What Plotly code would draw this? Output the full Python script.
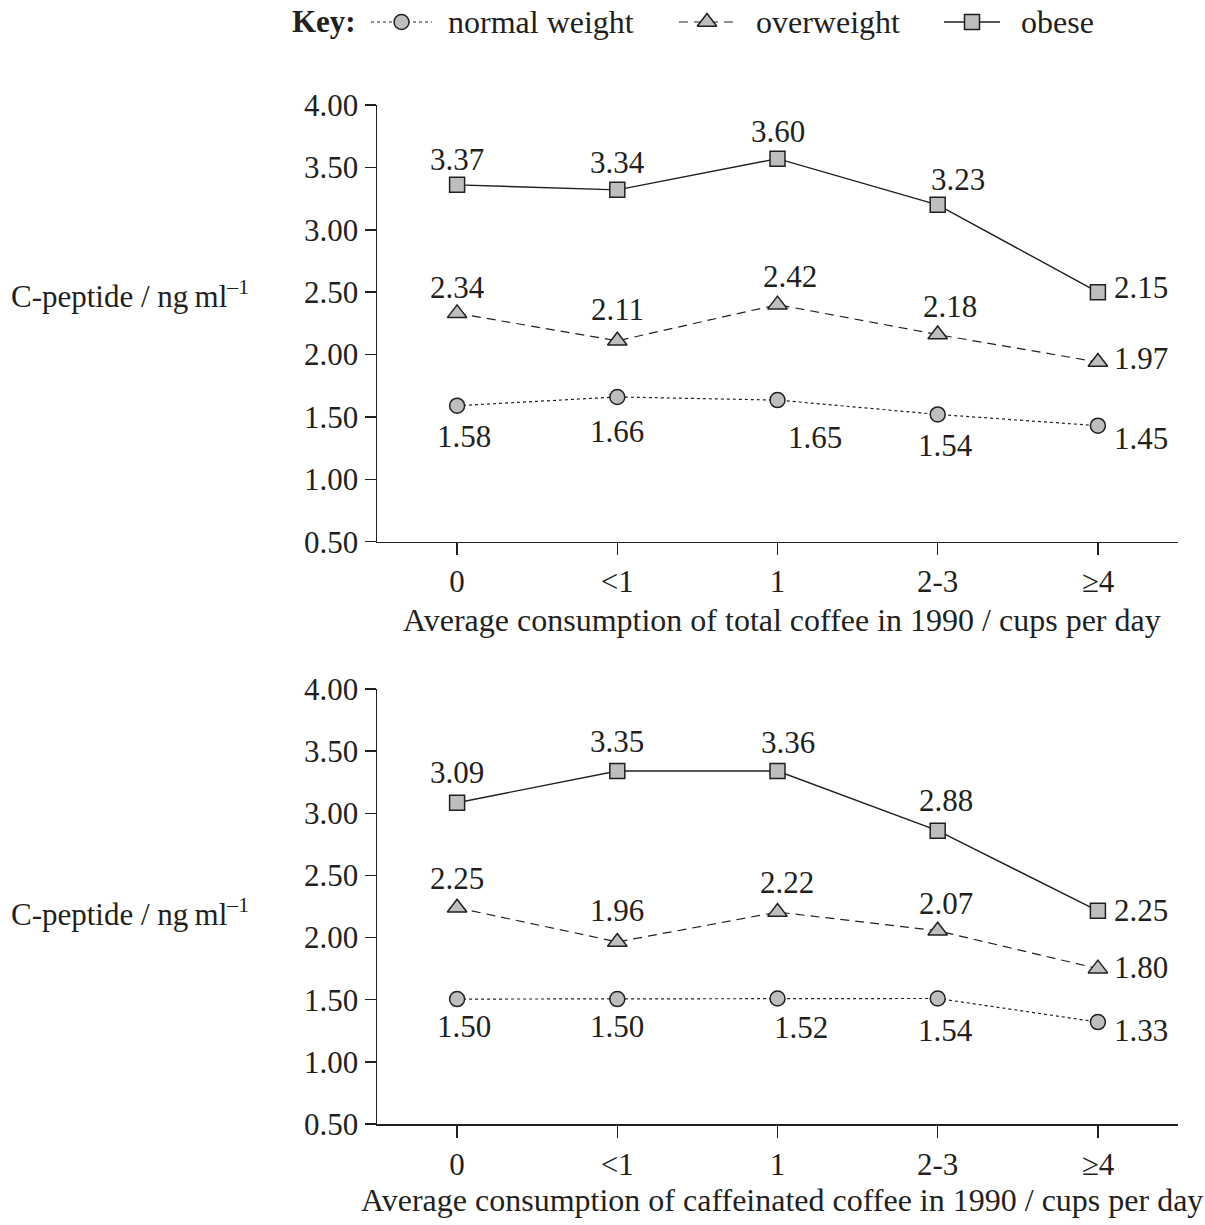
import plotly.graph_objects as go

# ---------------- data ----------------
categories = ["0", "<1", "1", "2-3", "≥4"]
series_names = ["normal weight", "overweight", "obese"]

# plotted marker positions (as drawn in the picture)
total_normal = [1.59, 1.66, 1.635, 1.52, 1.43]
total_over = [2.33, 2.11, 2.40, 2.16, 1.94]
total_obese = [3.36, 3.32, 3.57, 3.20, 2.50]

caff_normal = [1.505, 1.505, 1.51, 1.51, 1.32]
caff_over = [2.24, 1.965, 2.205, 2.055, 1.75]
caff_obese = [3.085, 3.34, 3.34, 2.86, 2.215]

# printed value labels
total_normal_lbl = ["1.58", "1.66", "1.65", "1.54", "1.45"]
total_over_lbl = ["2.34", "2.11", "2.42", "2.18", "1.97"]
total_obese_lbl = ["3.37", "3.34", "3.60", "3.23", "2.15"]

caff_normal_lbl = ["1.50", "1.50", "1.52", "1.54", "1.33"]
caff_over_lbl = ["2.25", "1.96", "2.22", "2.07", "1.80"]
caff_obese_lbl = ["3.09", "3.35", "3.36", "2.88", "2.25"]

y_ticks = [0.5, 1.0, 1.5, 2.0, 2.5, 3.0, 3.5, 4.0]
y_tick_text = ["0.50", "1.00", "1.50", "2.00", "2.50", "3.00", "3.50", "4.00"]

x_title_top = "Average consumption of total coffee in 1990 / cups per day"
x_title_bot = "Average consumption of caffeinated coffee in 1990 / cups per day"
y_title = "C-peptide / ng\u2009ml<sup>–1</sup>"

# ---------------- style ----------------
W, H = 1205, 1225
FONT = "Liberation Serif, Times New Roman, serif"
FS = 31
INK = "#231f20"
FILL = "#bcbec0"

xpos = list(range(len(categories)))


def px(x):
    return x / W


def py(y):
    return min(1.0, 1 - y / H)


styles = {
    "normal weight": dict(symbol="circle", size=15, dash="3px,3px", width=1.2),
    "overweight": dict(symbol="triangle-up", size=17, dash="9px,6px", width=1.2),
    "obese": dict(symbol="square", size=15, dash="solid", width=1.4),
}

# label offsets (dx, dy, anchor) in pixels
off_top = {
    "obese": [(0, 25, "c"), (0, 27, "c"), (0, 27, "c"), (20, 25, "c"), (14, 5, "r")],
    "overweight": [(0, 26, "c"), (0, 31, "c"), (12, 28, "c"), (12, 28, "c"), (14, 4, "r")],
    "normal weight": [(7, -31, "c"), (0, -35, "c"), (37, -37, "c"), (8, -31, "c"), (14, -13, "r")],
}
off_bot = {
    "obese": [(0, 30, "c"), (0, 30, "c"), (10, 29, "c"), (8, 30, "c"), (14, 0, "r")],
    "overweight": [(0, 29, "c"), (0, 31, "c"), (9, 30, "c"), (8, 27, "c"), (14, 1, "r")],
    "normal weight": [(7, -27, "c"), (0, -27, "c"), (23, -29, "c"), (8, -32, "c"), (14, -8, "r")],
}

fig = go.Figure()
annotations = []

panels = [
    ("x", "y", {"normal weight": (total_normal, total_normal_lbl),
                "overweight": (total_over, total_over_lbl),
                "obese": (total_obese, total_obese_lbl)}, off_top),
    ("x2", "y2", {"normal weight": (caff_normal, caff_normal_lbl),
                  "overweight": (caff_over, caff_over_lbl),
                  "obese": (caff_obese, caff_obese_lbl)}, off_bot),
]

for xa, ya, data, offs in panels:
    for name in series_names:
        vals, lbls = data[name]
        st = styles[name]
        fig.add_trace(go.Scatter(
            x=xpos, y=vals, mode="lines+markers", xaxis=xa, yaxis=ya,
            showlegend=False, name=name,
            line=dict(color=INK, width=st["width"], dash=st["dash"]),
            marker=dict(symbol=st["symbol"], size=st["size"], color=FILL,
                        line=dict(color=INK, width=1.5)),
            cliponaxis=False,
        ))
        for xi, v, t, (dx, dy, a) in zip(xpos, vals, lbls, offs[name]):
            annotations.append(dict(
                x=xi, y=v, xref=xa, yref=ya, text=t, showarrow=False,
                xshift=dx, yshift=dy, xanchor="left" if a == "r" else "center",
                yanchor="middle", font=dict(family=FONT, size=FS, color=INK),
            ))

# ---------------- legend (manual) ----------------
LEG_Y = 22
leg_val = 44 - LEG_Y
leg_items = [("normal weight", 371, 432, 446), ("overweight", 679, 735, 754), ("obese", 944, 1000, 1019)]
for name, x0, x1, tx in leg_items:
    st = styles[name]
    fig.add_trace(go.Scatter(
        x=[x0, (x0 + x1) / 2, x1], y=[leg_val] * 3, mode="lines",
        xaxis="x3", yaxis="y3", showlegend=False, hoverinfo="skip",
        line=dict(color=INK, width=st["width"], dash=st["dash"]),
    ))
    fig.add_trace(go.Scatter(
        x=[(x0 + x1) / 2], y=[leg_val], mode="markers", xaxis="x3", yaxis="y3",
        showlegend=False, hoverinfo="skip",
        marker=dict(symbol=st["symbol"], size=st["size"], color=FILL,
                    line=dict(color=INK, width=1.5)),
    ))
    annotations.append(dict(x=px(tx), y=py(LEG_Y), xref="paper", yref="paper", text=name,
                            showarrow=False, xanchor="left", yanchor="middle",
                            font=dict(family=FONT, size=32, color=INK)))
annotations.append(dict(x=px(290), y=py(LEG_Y), xref="paper", yref="paper", text="<b>Key:</b>",
                        showarrow=False, xanchor="left", yanchor="middle",
                        font=dict(family=FONT, size=31, color=INK)))

# ---------------- titles ----------------
for ypix in (294, 912):
    annotations.append(dict(x=px(9), y=py(ypix), xref="paper", yref="paper", text=y_title,
                            showarrow=False, xanchor="left", yanchor="middle",
                            font=dict(family=FONT, size=31, color=INK)))
annotations.append(dict(x=px(782), y=py(620), xref="paper", yref="paper", text=x_title_top,
                        showarrow=False, xanchor="center", yanchor="middle",
                        font=dict(family=FONT, size=32, color=INK)))
annotations.append(dict(x=px(782), y=py(1200), xref="paper", yref="paper", text=x_title_bot,
                        showarrow=False, xanchor="center", yanchor="middle",
                        font=dict(family=FONT, size=32, color=INK)))

xl, xr = px(377), px(1178)
ax_common = dict(showline=True, linecolor=INK, linewidth=1.5, ticks="outside",
                 tickcolor=INK, tickwidth=1.5, showgrid=False, zeroline=False,
                 automargin=False,
                 tickfont=dict(family=FONT, size=FS, color=INK))
xaxis_common = dict(ax_common, tickvals=xpos, ticktext=categories,
                    range=[-0.5, 4.5], ticklen=12, fixedrange=True)
yaxis_common = dict(ax_common, range=[0.5, 4.0], tickvals=y_ticks, ticktext=y_tick_text,
                    ticklen=11, fixedrange=True)

fig.update_layout(
    template="none",
    width=W, height=H, margin=dict(l=0, r=0, t=0, b=0, pad=0, autoexpand=False),
    paper_bgcolor="white", plot_bgcolor="white",
    font=dict(family=FONT, size=FS, color=INK),
    xaxis=dict(xaxis_common, domain=[xl, xr], anchor="y"),
    yaxis=dict(yaxis_common, domain=[py(541.7), py(105)], anchor="x"),
    xaxis2=dict(xaxis_common, domain=[xl, xr], anchor="y2"),
    yaxis2=dict(yaxis_common, domain=[py(1124), py(689)], anchor="x2"),
    xaxis3=dict(domain=[0, 1], range=[0, W], visible=False, anchor="y3", fixedrange=True,
                automargin=False),
    yaxis3=dict(domain=[1 - 44 / H, 1], range=[0, 44], visible=False, anchor="x3",
                fixedrange=True, automargin=False),
    annotations=annotations,
    showlegend=False,
    hovermode=False,
)

fig.write_html("out.html",
               config={"displayModeBar": False, "staticPlot": True},
               post_script="document.body.style.margin='0px';document.body.style.overflow='hidden';")
